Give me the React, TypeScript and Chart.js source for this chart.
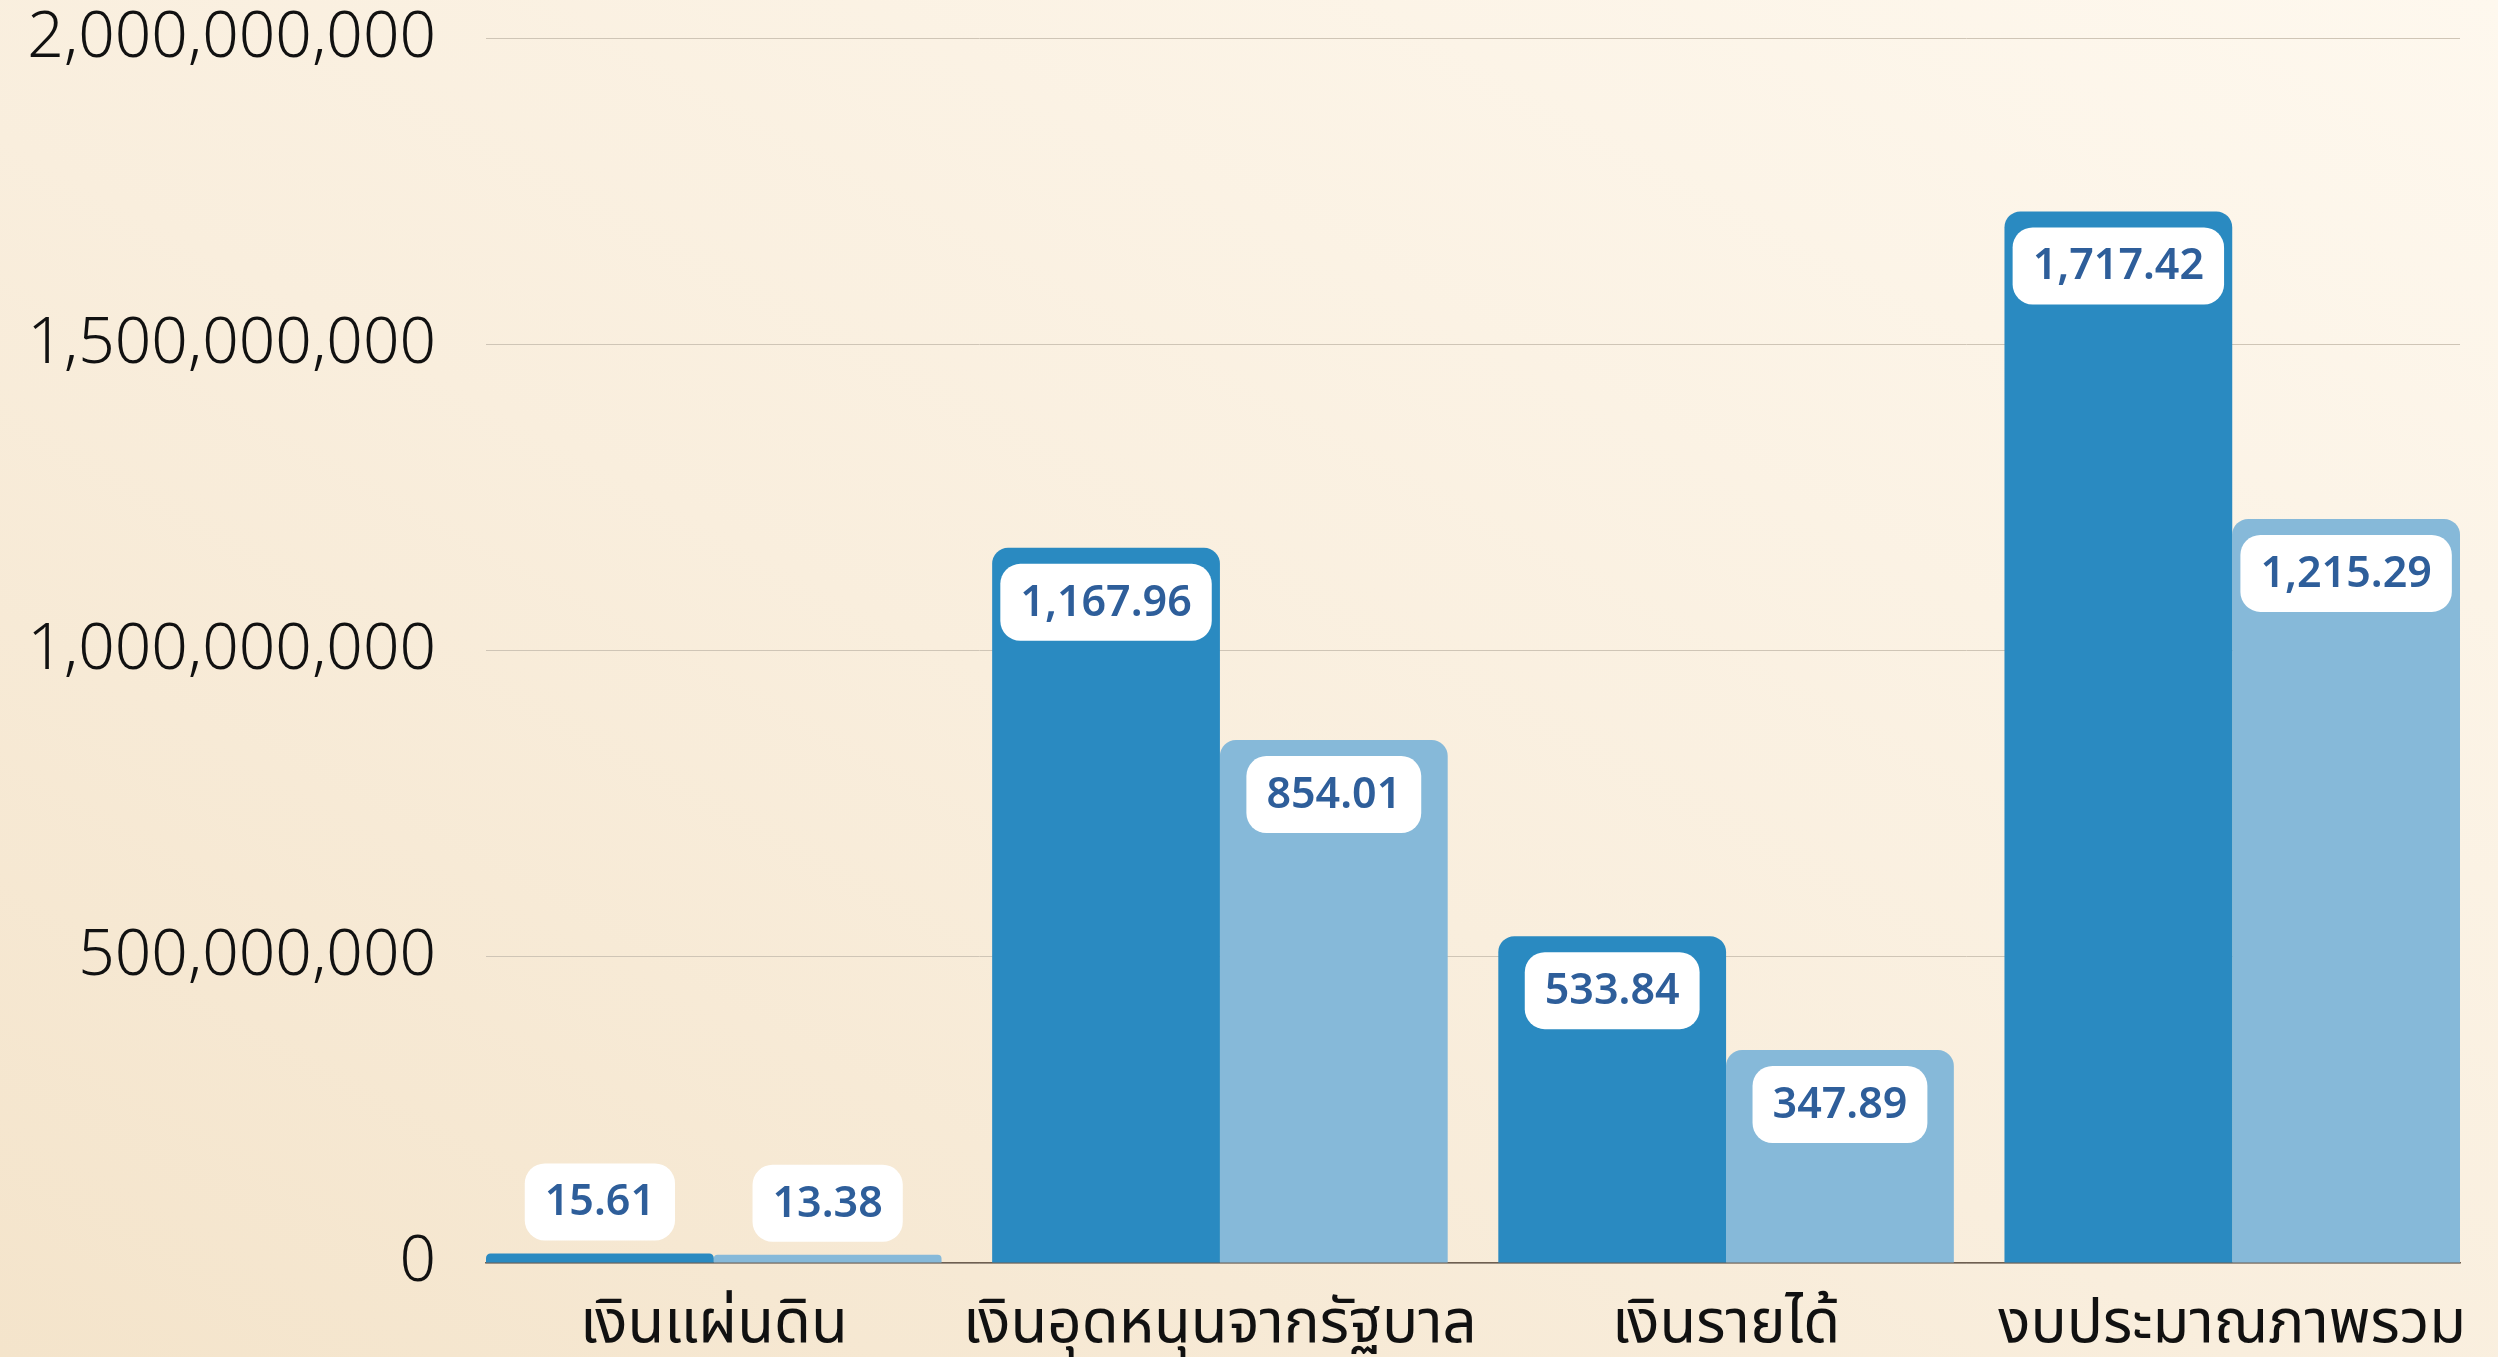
import React, { useEffect, useRef } from "react";
import { Chart, registerables } from "chart.js";

Chart.register(...registerables);

const categories = ["เงินแผ่นดิน", "เงินอุดหนุนจากรัฐบาล", "เงินรายได้", "งบประมาณภาพรวม"];
const categoryPositions = [0, 1, 2, 3];
const seriesNames = ["งบประมาณที่ได้รับ", "ผลการใช้จ่าย"];
const budgetValues = [15610000, 1167960000, 533840000, 1717420000];
const spentValues = [13380000, 854010000, 347890000, 1215290000];
const yTickValues = [0, 500000000, 1000000000, 1500000000, 2000000000];

const DARK = "#2A8AC1";
const LIGHT = "#86B9D9";

const valueLabelPlugin = {
  id: "valueLabels",
  afterDatasetsDraw(chart: any) {
    const ctx = chart.ctx;
    ctx.save();
    ctx.font = "600 43px 'Noto Sans', sans-serif";
    ctx.textAlign = "center";
    ctx.textBaseline = "middle";
    chart.data.datasets.forEach((ds: any, di: number) => {
      const meta = chart.getDatasetMeta(di);
      meta.data.forEach((bar: any, i: number) => {
        const raw = ds.data[i].y as number;
        const text = (raw / 1e6).toLocaleString("en-US", {
          minimumFractionDigits: 2,
          maximumFractionDigits: 2,
        });
        const tw = ctx.measureText(text).width;
        const bw = tw + 40;
        const bh = 77;
        const barH = bar.base - bar.y;
        let top: number;
        if (barH > bh + 40) top = bar.y + 16;
        else top = bar.y - 13 - bh;
        const left = bar.x - bw / 2;
        ctx.fillStyle = "#FFFFFF";
        ctx.beginPath();
        (ctx as any).roundRect(left, top, bw, bh, 20);
        ctx.fill();
        ctx.fillStyle = "#2E5E9A";
        ctx.fillText(text, bar.x, top + bh / 2 + 1);
      });
    });
    ctx.restore();
  },
};

export default function App() {
  const ref = useRef<HTMLCanvasElement | null>(null);

  useEffect(() => {
    if (!ref.current) return;
    const chart = new Chart(ref.current, {
      type: "bar",
      data: {
        datasets: [
          {
            label: seriesNames[0],
            data: categoryPositions.map((x, i) => ({ x, y: budgetValues[i] })),
            backgroundColor: DARK,
            borderRadius: { topLeft: 16, topRight: 16, bottomLeft: 0, bottomRight: 0 },
            borderSkipped: "bottom",
            categoryPercentage: 0.9,
            barPercentage: 1.0,
          },
          {
            label: seriesNames[1],
            data: categoryPositions.map((x, i) => ({ x, y: spentValues[i] })),
            backgroundColor: LIGHT,
            borderRadius: { topLeft: 16, topRight: 16, bottomLeft: 0, bottomRight: 0 },
            borderSkipped: "bottom",
            categoryPercentage: 0.9,
            barPercentage: 1.0,
          },
        ] as any,
      },
      options: {
        animation: false,
        responsive: true,
        maintainAspectRatio: false,
        layout: { padding: { left: 0, right: 38, top: 38, bottom: 0 } },
        plugins: {
          legend: { display: false },
          tooltip: { enabled: false },
        },
        scales: {
          x: {
            type: "linear",
            offset: false,
            min: -0.45,
            max: 3.45,
            afterBuildTicks: (scale: any) => {
              scale.ticks = categoryPositions.map((v) => ({ value: v }));
            },
            afterFit: (scale: any) => {
              scale.height = 94;
            },
            grid: { display: false, drawTicks: false, offset: false },
            border: { display: true, color: "#6E5F50", width: 1.5 },
            ticks: {
              autoSkip: false,
              maxRotation: 0,
              minRotation: 0,
              padding: 21,
              color: "#111111",
              font: {
                family: "'Noto Sans Thai', 'Noto Sans', sans-serif",
                size: 60,
                lineHeight: 1.53,
              },
              callback: (v: any) => categories[Number(v)] ?? "",
            },
          },
          y: {
            min: 0,
            max: 2000000000,
            afterBuildTicks: (scale: any) => {
              scale.ticks = yTickValues.map((v) => ({ value: v }));
            },
            afterFit: (scale: any) => {
              scale.width = 486;
            },
            grid: {
              color: "#CFC5B6",
              lineWidth: 1,
              drawTicks: true,
              tickLength: 50,
              tickColor: "rgba(0,0,0,0)",
            },
            border: { display: false },
            ticks: {
              padding: 0,
              color: "#111111",
              font: { family: "'Noto Sans', sans-serif", size: 64, weight: "300" as any },
              callback: (v: any) => Number(v).toLocaleString("en-US"),
            },
          },
        },
      } as any,
      plugins: [valueLabelPlugin],
    });
    return () => chart.destroy();
  }, []);

  return (
    <div
      style={{
        position: "fixed",
        left: 0,
        top: 0,
        width: "2498px",
        height: "1357px",
        background: "linear-gradient(to top right, #F4E4CB 0%, #F9EEDD 45%, #FEF8EE 100%)",
      }}
    >
      <canvas ref={ref} />
    </div>
  );
}
